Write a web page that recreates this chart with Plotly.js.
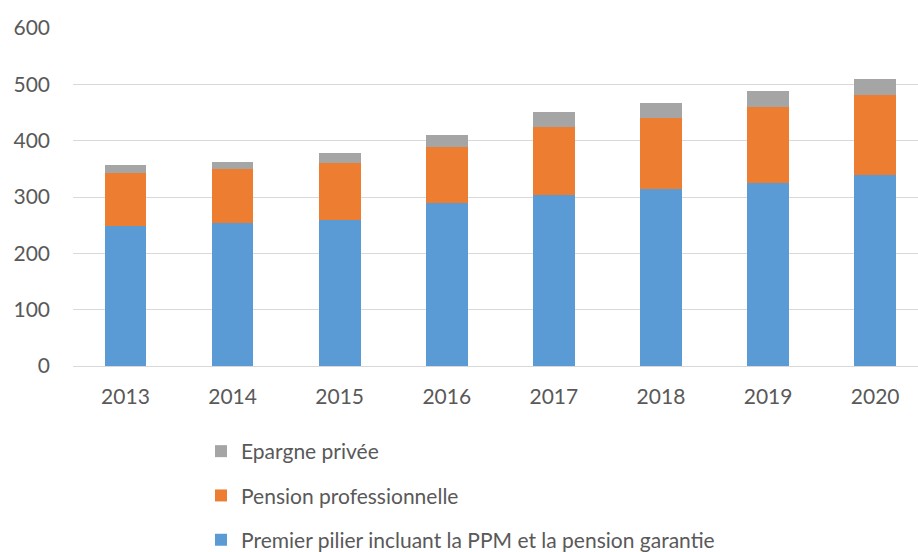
<!DOCTYPE html>
<html>
<head>
<meta charset="utf-8">
<script src="https://cdn.plot.ly/plotly-3.0.1.min.js"></script>
<style>html,body{margin:0;padding:0;background:#fff;}#chart{width:918px;height:552px;}</style>
</head>
<body>
<div id="chart"></div>
<script>
var years = ["2013","2014","2015","2016","2017","2018","2019","2020"];
var premierPilier = [249, 253, 260, 289, 303, 314, 324, 339];
var pensionPro = [93, 96, 100, 100, 121, 127, 136, 142];
var epargnePrivee = [15, 14, 18, 21, 27, 25, 28, 28];
var yTicks = [0, 100, 200, 300, 400, 500, 600];

var names = ["Premier pilier incluant la PPM et la pension garantie", "Pension professionnelle", "Epargne privée"];
var colors = ["#5B9BD5", "#ED7D31", "#A5A5A5"];
var series = [premierPilier, pensionPro, epargnePrivee];

var traces = series.map(function(vals, i){
  return {
    type: "bar", x: years, y: vals, name: names[i], legendgroup: "g" + i,
    legendrank: 3 - i,
    marker: {color: colors[i], line: {width: 0}},
    hoverinfo: "x+y+name"
  };
});

var layout = {
  width: 918, height: 552,
  margin: {l: 73, r: 0, t: 28, b: 186, autoexpand: false},
  paper_bgcolor: "#fff", plot_bgcolor: "#fff",
  barmode: "stack", bargap: 0.61,
  font: {family: "Lato, 'Open Sans', sans-serif", size: 21, color: "#595959"},
  xaxis: {
    type: "category", range: [-0.49, 7.4], automargin: false, tickangle: 0,
    showline: true, linecolor: "#D9D9D9", linewidth: 1,
    ticks: "", showgrid: false, tickfont: {size: 21, color: "#595959"},
    ticklabelstandoff: 12
  },
  yaxis: {
    range: [0, 600], tickvals: yTicks, ticktext: yTicks.map(String), automargin: false,
    showgrid: true, gridcolor: "#D9D9D9", gridwidth: 1,
    zeroline: false, showline: false, ticks: "",
    tickfont: {size: 21, color: "#595959"}, ticklabelstandoff: 22
  },
  showlegend: true,
  legend: {
    orientation: "v",
    x: 0.1515, xanchor: "left", y: -0.1923, yanchor: "top",
    traceorder: "grouped", tracegroupgap: 14,
    font: {size: 21, color: "#595959"}, itemwidth: 30
  }
};

Plotly.newPlot("chart", traces, layout, {displayModeBar: false, staticPlot: true});
</script>
</body>
</html>
